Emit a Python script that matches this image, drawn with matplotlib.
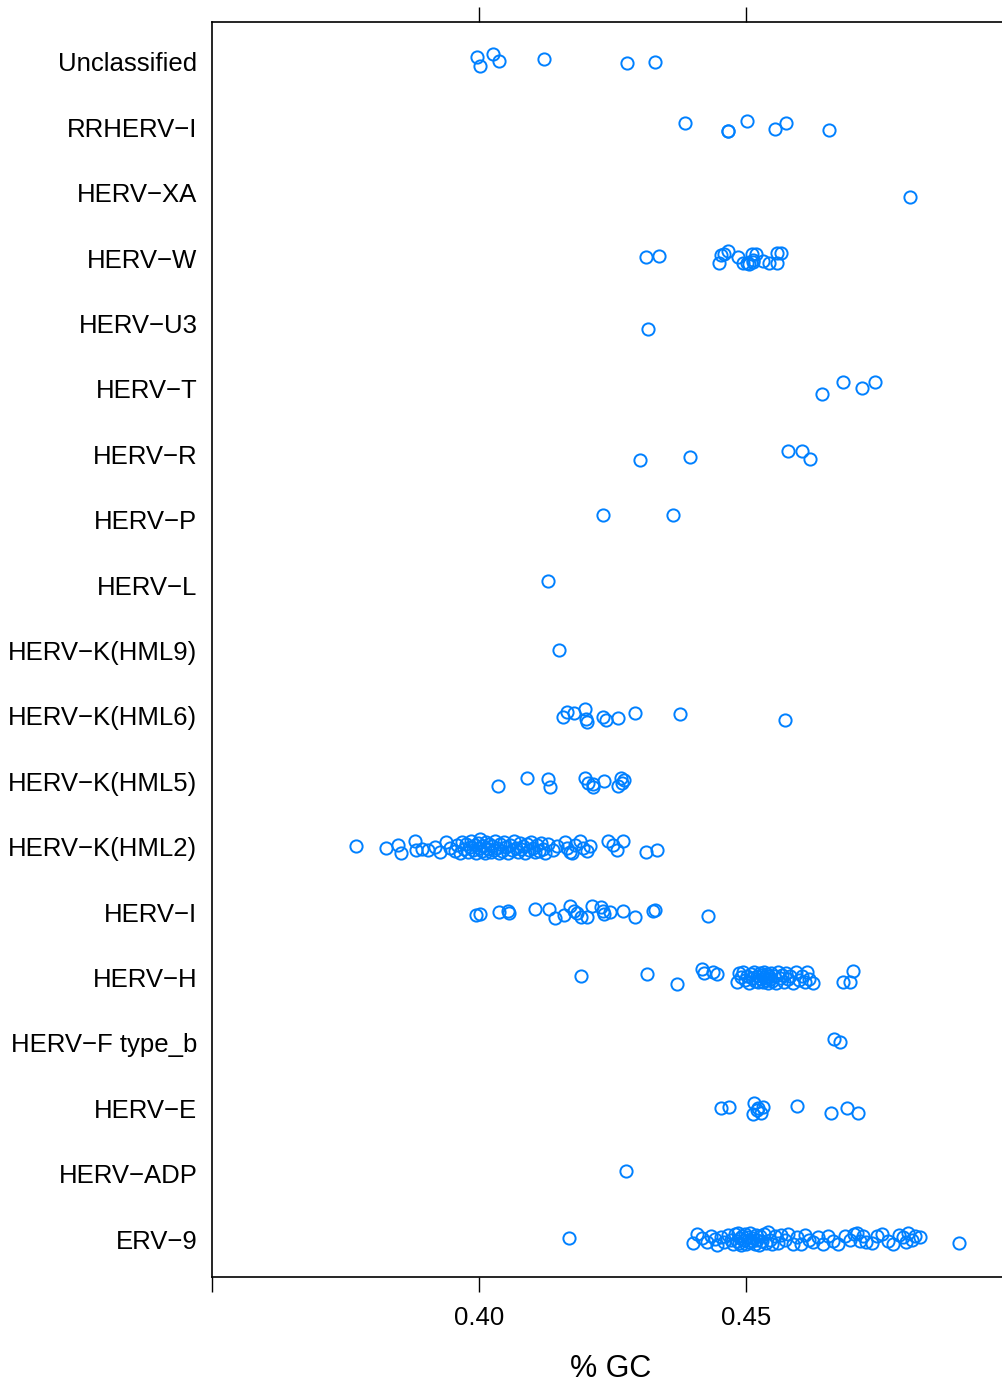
import matplotlib
matplotlib.use("Agg")
import matplotlib.pyplot as plt

plt.rcParams['font.family'] = ['Liberation Sans', 'DejaVu Sans']

categories = ["Unclassified", "RRHERV\u2212I", "HERV\u2212XA", "HERV\u2212W", "HERV\u2212U3",
              "HERV\u2212T", "HERV\u2212R", "HERV\u2212P", "HERV\u2212L", "HERV\u2212K(HML9)",
              "HERV\u2212K(HML6)", "HERV\u2212K(HML5)", "HERV\u2212K(HML2)", "HERV\u2212I",
              "HERV\u2212H", "HERV\u2212F type_b", "HERV\u2212E", "HERV\u2212ADP", "ERV\u22129"]

unclassified = [0.3996, 0.4001, 0.4027, 0.4037, 0.4121, 0.4278, 0.4329]
unclassified_j = [-0.08, 0.06, -0.12, -0.02, -0.04, 0.01, 0.0]
rrherv_i = [0.4385, 0.4466, 0.4467, 0.4501, 0.4555, 0.4575, 0.4656]
rrherv_i_j = [-0.07, 0.06, 0.055, -0.10, 0.025, -0.07, 0.04]
herv_xa = [0.4807]
herv_xa_j = [0.06]
herv_w = [0.4313, 0.4337, 0.4449, 0.4453, 0.4459, 0.4467, 0.4485, 0.4495, 0.4501, 0.4506,
          0.4511, 0.4514, 0.4518, 0.4514, 0.4531, 0.4544, 0.4558, 0.4558, 0.4566]
herv_w_j = [-0.01, -0.03, 0.07, -0.04, -0.07, -0.11, -0.01, 0.07, 0.08, 0.09,
            -0.07, 0.03, -0.06, 0.06, 0.05, 0.08, 0.07, -0.08, -0.08]
herv_u3 = [0.4317]
herv_u3_j = [0.09]
herv_t = [0.4643, 0.4681, 0.4717, 0.4741]
herv_t_j = [0.08, -0.10, -0.015, -0.11]
herv_r = [0.4302, 0.4396, 0.4579, 0.4604, 0.4619]
herv_r_j = [0.09, 0.04, -0.05, -0.05, 0.07]
herv_p = [0.4233, 0.4364]
herv_p_j = [-0.07, -0.07]
herv_l = [0.4129]
herv_l_j = [-0.07]
hml9 = [0.4149]
hml9_j = [0.0]
hml6 = [0.4157, 0.4164, 0.4177, 0.4199, 0.4202, 0.4200, 0.4233, 0.4238, 0.4260, 0.4292, 0.4376, 0.4573]
hml6_j = [0.02, -0.06, -0.04, -0.10, 0.09, 0.05, 0.01, 0.06, 0.04, -0.05, -0.03, 0.07]
hml5 = [0.4036, 0.4089, 0.4129, 0.4133, 0.4198, 0.4205, 0.4213, 0.4214, 0.4235, 0.4260, 0.4265, 0.4272, 0.4267]
hml5_j = [0.07, -0.055, -0.04, 0.09, -0.045, 0.03, 0.08, 0.045, -0.01, 0.07, -0.055, -0.02, 0.02]
hml2 = [0.3769, 0.3826, 0.3849, 0.3853, 0.3880, 0.3882, 0.3893, 0.3904, 0.3918, 0.3927,
        0.3938, 0.3946, 0.3955, 0.3959, 0.3964, 0.3968, 0.3972, 0.3976, 0.3979, 0.3983,
        0.3985, 0.3989, 0.3993, 0.3994, 0.3998, 0.4000, 0.4002, 0.4006, 0.4007, 0.4011,
        0.4013, 0.4017, 0.4019, 0.4022, 0.4024, 0.4028, 0.4030, 0.4034, 0.4037, 0.4039,
        0.4043, 0.4047, 0.4051, 0.4054, 0.4058, 0.4062, 0.4066, 0.4069, 0.4073, 0.4077,
        0.4079, 0.4082, 0.4086, 0.4090, 0.4094, 0.4097, 0.4101, 0.4105, 0.4109, 0.4112,
        0.4116, 0.4120, 0.4124, 0.4129, 0.4139, 0.4146, 0.4161, 0.4165, 0.4170, 0.4174,
        0.4180, 0.4189, 0.4195, 0.4202, 0.4208, 0.4242, 0.4251, 0.4258, 0.4270, 0.4313, 0.4333]
hml2_j = [-0.01, 0.025, -0.025, 0.09, -0.09, 0.05, 0.03, 0.045, 0.0, 0.075,
          -0.075, 0.015, 0.06, -0.03, 0.09, -0.075, 0.03, -0.045, 0.075, 0.0,
          -0.09, 0.045, -0.03, 0.09, -0.06, 0.015, -0.11, 0.06, -0.015, 0.09,
          -0.075, 0.03, -0.045, 0.075, -0.015, 0.045, -0.09, 0.015, 0.09, -0.045,
          0.06, -0.075, 0.0, 0.09, -0.03, 0.045, -0.09, 0.015, 0.075, -0.06,
          0.03, -0.015, 0.09, -0.045, 0.045, -0.075, 0.015, 0.075, -0.03, 0.06,
          -0.06, 0.03, 0.09, -0.045, 0.045, -0.015, -0.075, 0.015, 0.075, 0.09,
          -0.03, -0.09, 0.015, 0.06, -0.015, -0.09, -0.03, 0.045, -0.09, 0.075, 0.045]
herv_i = [0.3994, 0.4001, 0.4038, 0.4054, 0.4056, 0.4105, 0.4132, 0.4143, 0.4159, 0.4170,
          0.4177, 0.4184, 0.4191, 0.4202, 0.4211, 0.4228, 0.4232, 0.4234, 0.4245, 0.4270,
          0.4292, 0.4326, 0.4330, 0.4428]
herv_i_j = [0.045, 0.035, 0.0, -0.02, 0.02, -0.05, -0.04, 0.085, 0.05, -0.09,
            -0.02, 0.02, 0.07, 0.08, -0.09, -0.07, -0.02, 0.035, -0.005, -0.02,
            0.08, -0.02, -0.03, 0.06]
herv_h = [0.4191, 0.4314, 0.4370, 0.4417, 0.4421, 0.4439, 0.4445, 0.4483, 0.4487, 0.4491,
          0.4494, 0.4498, 0.4502, 0.4506, 0.4509, 0.4511, 0.4515, 0.4517, 0.4521, 0.4522,
          0.4526, 0.4528, 0.4530, 0.4532, 0.4534, 0.4536, 0.4537, 0.4539, 0.4541, 0.4543,
          0.4545, 0.4547, 0.4549, 0.4552, 0.4556, 0.4560, 0.4564, 0.4567, 0.4571, 0.4575,
          0.4579, 0.4582, 0.4588, 0.4594, 0.4599, 0.4605, 0.4610, 0.4614, 0.4618, 0.4625,
          0.4682, 0.4695, 0.4700]
herv_h_j = [-0.03, -0.05, 0.095, -0.125, -0.065, -0.09, -0.055, 0.075, -0.075, 0.0,
            -0.09, 0.045, -0.03, 0.09, -0.06, 0.015, -0.09, 0.06, -0.015, 0.075,
            -0.075, 0.03, -0.045, 0.075, -0.09, 0.0, 0.045, -0.06, 0.09, -0.015,
            0.03, -0.075, 0.06, -0.03, 0.09, -0.09, 0.015, -0.045, 0.075, -0.075,
            0.03, -0.03, 0.09, -0.09, 0.045, -0.015, 0.075, -0.09, 0.03, 0.09,
            0.075, 0.075, -0.10]
herv_fb = [0.4665, 0.4676]
herv_fb_j = [-0.06, -0.01]
herv_e = [0.4453, 0.4468, 0.4515, 0.4513, 0.4523, 0.4531, 0.4529, 0.4521, 0.4596, 0.4659, 0.4689, 0.4709]
herv_e_j = [0.0, -0.015, -0.075, 0.09, 0.0, -0.015, 0.07, 0.03, -0.03, 0.07, 0.0, 0.07]
herv_adp = [0.4275]
herv_adp_j = [-0.04]
erv9 = [0.4169, 0.4401, 0.4408, 0.4418, 0.4427, 0.4434, 0.4442, 0.4446, 0.4453, 0.4459,
        0.4466, 0.4472, 0.4476, 0.4479, 0.4483, 0.4485, 0.4487, 0.4489, 0.4491, 0.4493,
        0.4496, 0.4498, 0.4500, 0.4502, 0.4506, 0.4507, 0.4511, 0.4513, 0.4517, 0.4519,
        0.4521, 0.4524, 0.4526, 0.4530, 0.4534, 0.4537, 0.4541, 0.4545, 0.4549, 0.4554,
        0.4560, 0.4566, 0.4573, 0.4579, 0.4588, 0.4596, 0.4603, 0.4610, 0.4618, 0.4625,
        0.4635, 0.4644, 0.4654, 0.4663, 0.4672, 0.4685, 0.4695, 0.4702, 0.4708, 0.4713,
        0.4719, 0.4725, 0.4736, 0.4745, 0.4755, 0.4766, 0.4775, 0.4787, 0.4794, 0.4800,
        0.4803, 0.4811, 0.4816, 0.4826, 0.4898]
erv9_j = [-0.01, 0.06, -0.075, -0.015, 0.045, -0.045, 0.0, 0.09, -0.03, 0.045,
          -0.06, 0.015, 0.075, -0.075, 0.03, -0.09, 0.06, -0.015, 0.09, -0.045,
          0.015, -0.075, 0.075, -0.03, 0.045, -0.09, 0.03, -0.015, 0.075, -0.06,
          0.015, 0.09, -0.045, 0.03, -0.075, 0.06, -0.11, 0.015, 0.075, -0.045,
          0.06, -0.06, 0.015, -0.075, 0.075, -0.03, 0.075, -0.06, 0.015, 0.045,
          -0.03, 0.075, -0.045, 0.03, 0.075, -0.045, 0.015, -0.075, -0.09, 0.03,
          -0.045, 0.045, 0.06, -0.045, -0.075, 0.03, 0.075, -0.06, -0.03, 0.045,
          -0.09, 0.015, -0.045, -0.03, 0.065]

series = [(unclassified, unclassified_j), (rrherv_i, rrherv_i_j), (herv_xa, herv_xa_j),
          (herv_w, herv_w_j), (herv_u3, herv_u3_j), (herv_t, herv_t_j), (herv_r, herv_r_j),
          (herv_p, herv_p_j), (herv_l, herv_l_j), (hml9, hml9_j), (hml6, hml6_j),
          (hml5, hml5_j), (hml2, hml2_j), (herv_i, herv_i_j), (herv_h, herv_h_j),
          (herv_fb, herv_fb_j), (herv_e, herv_e_j), (herv_adp, herv_adp_j), (erv9, erv9_j)]

W, H = 1002, 1385
fig = plt.figure(figsize=(W / 100, H / 100), dpi=100)
left, right, top, bottom = 212, 1010, 22, 1277
ax = fig.add_axes([left / W, (H - bottom) / H, (right - left) / W, (bottom - top) / H])

color = "#0080ff"
for i, (vals, jit) in enumerate(series):
    ys = [i + j for j in jit]
    ax.plot(vals, ys, linestyle="none", marker="o", markersize=8.8,
            markerfacecolor="none", markeredgecolor=color, markeredgewidth=1.4)

ax.set_xlim(0.35, 0.35 + (right - left) / 5340)
ax.set_ylim(18.58, -0.61)
ax.set_yticks(range(len(categories)))
ax.set_yticklabels(categories, fontsize=18.5)
ax.tick_params(axis="y", length=0, pad=10.5)

ax.set_xticks([0.35, 0.40, 0.45])
ax.set_xticklabels(["", "0.40", "0.45"], fontsize=18.5)
ax.tick_params(axis="x", direction="out", length=11, width=1.0, pad=10, colors="black")
ax.set_xlabel("% GC", fontsize=22, labelpad=17)

sec = ax.secondary_xaxis("top")
sec.set_xticks([0.40, 0.45])
sec.set_xticklabels(["", ""])
sec.tick_params(direction="out", length=11, width=1.0)
sec.spines["top"].set_visible(False)

for s in ["left", "top", "bottom"]:
    ax.spines[s].set_linewidth(1.2)
ax.spines["right"].set_visible(False)

fig.savefig("out.png", dpi=100)
